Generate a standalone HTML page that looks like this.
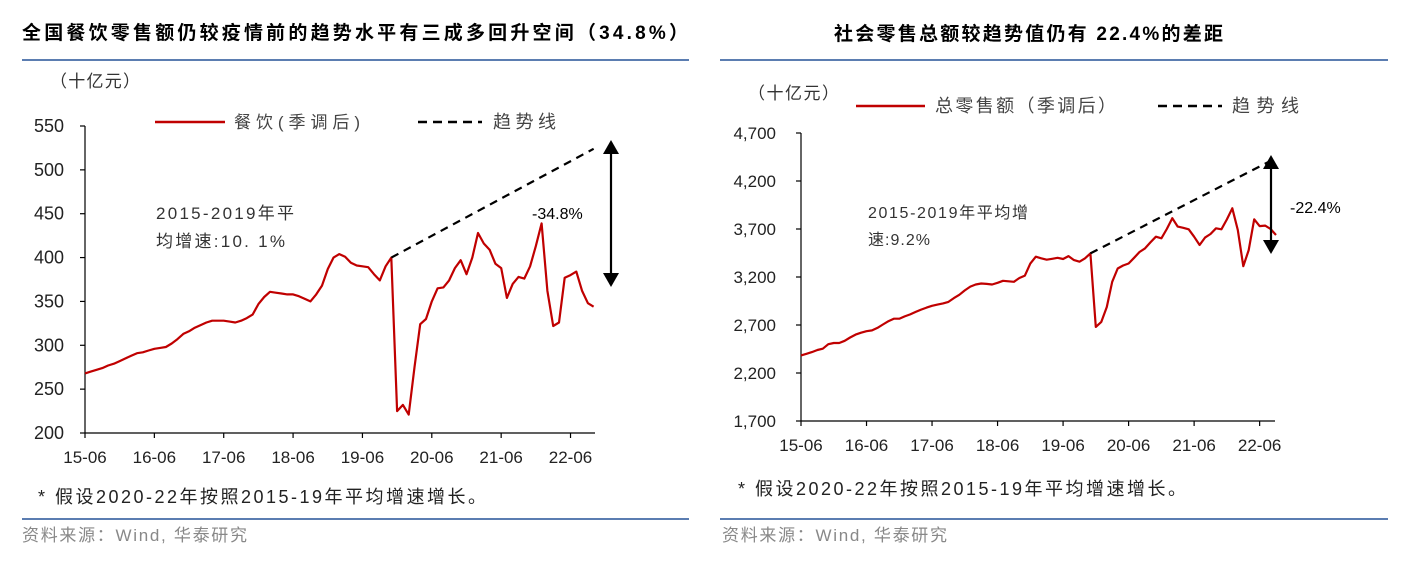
<!DOCTYPE html>
<html><head><meta charset="utf-8">
<style>
html,body{margin:0;padding:0;background:#fff;}
body{width:1406px;height:559px;overflow:hidden;font-family:"Liberation Sans","Noto Sans CJK SC",sans-serif;}
svg text{font-family:"Liberation Sans","Noto Sans CJK SC",sans-serif;}
</style></head>
<body>
<svg id="chart" width="1406" height="559" xmlns="http://www.w3.org/2000/svg">
<g>
<text x="22" y="39" font-size="19" font-weight="bold" fill="#000" textLength="666" lengthAdjust="spacing">全国餐饮零售额仍较疫情前的趋势水平有三成多回升空间（34.8%）</text>
<line x1="22" y1="60" x2="689" y2="60" stroke="#5b7db1" stroke-width="2"/>
<text x="50" y="87" font-size="17" fill="#333" textLength="90" lengthAdjust="spacing">（十亿元）</text>
<line x1="155" y1="122" x2="225" y2="122" stroke="#c00000" stroke-width="2.5"/>
<text x="234" y="128" font-size="17" fill="#444" textLength="126" lengthAdjust="spacing">餐饮(季调后)</text>
<line x1="418" y1="122" x2="482" y2="122" stroke="#000" stroke-width="2.5" stroke-dasharray="9,6"/>
<text x="493" y="128" font-size="18" fill="#444" textLength="63" lengthAdjust="spacing">趋势线</text>
</g>
<g id="left"></g>
<g>
<text x="38" y="503" font-size="18" fill="#222" textLength="448" lengthAdjust="spacing">* 假设2020-22年按照2015-19年平均增速增长。</text>
<line x1="22" y1="519" x2="689" y2="519" stroke="#5b7db1" stroke-width="2"/>
<text x="22" y="541" font-size="17" fill="#888" textLength="225" lengthAdjust="spacing">资料来源：Wind, 华泰研究</text>
</g>

<g>
<text x="834" y="40" font-size="19" font-weight="bold" fill="#000" textLength="389" lengthAdjust="spacing">社会零售总额较趋势值仍有 22.4%的差距</text>
<line x1="720" y1="60" x2="1388" y2="60" stroke="#5b7db1" stroke-width="2"/>
<text x="748" y="99" font-size="17" fill="#333" textLength="91" lengthAdjust="spacing">（十亿元）</text>
<line x1="856" y1="106" x2="925" y2="106" stroke="#c00000" stroke-width="2.5"/>
<text x="935" y="112" font-size="18" fill="#444" textLength="181" lengthAdjust="spacing">总零售额（季调后）</text>
<line x1="1158" y1="106" x2="1222" y2="106" stroke="#000" stroke-width="2.5" stroke-dasharray="9,6"/>
<text x="1232" y="112" font-size="18" fill="#444" textLength="67" lengthAdjust="spacing">趋势线</text>
</g>
<g id="right"></g>
<g>
<text x="738" y="495" font-size="18" fill="#222" textLength="448" lengthAdjust="spacing">* 假设2020-22年按照2015-19年平均增速增长。</text>
<line x1="720" y1="519" x2="1388" y2="519" stroke="#5b7db1" stroke-width="2"/>
<text x="722" y="541" font-size="17" fill="#888" textLength="225" lengthAdjust="spacing">资料来源：Wind, 华泰研究</text>
</g>
</svg>
<script>
const xTickLabels = ["15-06","16-06","17-06","18-06","19-06","20-06","21-06","22-06"];
const leftYTicks = [200,250,300,350,400,450,500,550];
const leftValues = [268,270,272,274,277,279,282,285,288,291,292,294,296,297,298,302,307,313,316,320,323,326,328,328,328,327,326,328,331,335,347,355,361,360,359,358,358,356,353,350,358,368,387,400,404,401,394,391,390,389,381,374,390,400,225,232,221,275,324,330,350,365,366,374,388,397,381,400,428,416,409,393,388,354,370,378,376,390,413,439,362,322,326,377,380,384,362,348,344];
const leftTrend = [[53,400],[88,524]];
const rightYTicks = [1700,2200,2700,3200,3700,4200,4700];
const rightValues = [2383,2400,2418,2440,2453,2500,2512,2512,2535,2570,2600,2620,2635,2644,2670,2705,2740,2766,2766,2790,2810,2836,2860,2881,2900,2912,2925,2941,2980,3015,3060,3100,3122,3132,3128,3122,3140,3160,3155,3150,3190,3215,3340,3411,3395,3380,3390,3400,3387,3418,3376,3359,3394,3446,2680,2732,2888,3150,3289,3320,3341,3400,3460,3498,3560,3620,3603,3700,3812,3725,3712,3697,3620,3533,3610,3648,3707,3697,3800,3916,3690,3313,3480,3801,3730,3735,3700,3637];
const rightTrend = [[53,3446],[87,4439]];

const NS="http://www.w3.org/2000/svg";
function mk(parent,tag,attrs){const e=document.createElementNS(NS,tag);for(const k in attrs)e.setAttribute(k,attrs[k]);parent.appendChild(e);return e;}

function draw(cfg){
  const g=document.getElementById(cfg.id);
  const x=m=>cfg.x0+m*cfg.pxm;
  const y=v=>cfg.yB-(v-cfg.vMin)/(cfg.vMax-cfg.vMin)*(cfg.yB-cfg.yT);
  const ax=mk(g,'line',{x1:cfg.x0,y1:cfg.yT,x2:cfg.x0,y2:cfg.yB,stroke:'#000','stroke-width':1.2});
  
  
  const bx=mk(g,'line',{x1:cfg.x0,y1:cfg.yB,x2:cfg.xEnd,y2:cfg.yB,stroke:'#000','stroke-width':1.2});
  
  
  cfg.yTicks.forEach(v=>{
    const t=mk(g,'line',{x1:cfg.x0-5,y1:y(v),x2:cfg.x0,y2:y(v),stroke:'#000','stroke-width':1.2});
    
    
    const l=mk(g,'text',{x:cfg.ylx,y:y(v)+6,'font-size':cfg.yfs,'text-anchor':'end',fill:'#222'});
    l.textContent=cfg.fmt(v);
    
    
  });
  xTickLabels.forEach((s,i)=>{
    const xx=x(i*12);
    const t=mk(g,'line',{x1:xx,y1:cfg.yB,x2:xx,y2:cfg.yB+5,stroke:'#000','stroke-width':1.2});
    
    
    const l=mk(g,'text',{x:xx,y:cfg.yB+30,'font-size':17,'text-anchor':'middle',fill:'#222'});
    l.textContent=s;
    
    
  });
  const p=mk(g,'polyline',{points:cfg.values.map((v,i)=>x(i).toFixed(1)+','+y(v).toFixed(1)).join(' '),fill:'none',stroke:'#c00000','stroke-width':2.2,'stroke-linejoin':'round'});
  
  
  const tr=mk(g,'line',{x1:x(cfg.trend[0][0]),y1:y(cfg.trend[0][1]),x2:x(cfg.trend[1][0]),y2:y(cfg.trend[1][1]),stroke:'#000','stroke-width':2.2,'stroke-dasharray':'8,6'});
  
  
  const ar=cfg.arrow;
  const a=mk(g,'line',{x1:ar.x,y1:ar.y1+12,x2:ar.x,y2:ar.y2-12,stroke:'#000','stroke-width':2.2});
  
  
  const h1=mk(g,'polygon',{points:`${ar.x-8},${ar.y1+14} ${ar.x+8},${ar.y1+14} ${ar.x},${ar.y1}`,fill:'#000'});
  
  
  const h2=mk(g,'polygon',{points:`${ar.x-8},${ar.y2-14} ${ar.x+8},${ar.y2-14} ${ar.x},${ar.y2}`,fill:'#000'});
  
  
  const gl=mk(g,'text',{x:cfg.gapX,y:cfg.gapY,'font-size':16,fill:'#000'});
  gl.textContent=cfg.gapText;
  
  
  cfg.note.forEach((s,i)=>{
    const n=mk(g,'text',{x:cfg.noteX,y:cfg.noteY+i*cfg.noteDy,'font-size':cfg.noteFs,fill:'#333',textLength:cfg.noteW[i],lengthAdjust:'spacing'});
    n.textContent=s;
    
    
  });
}
draw({id:'left',x0:85,pxm:5.78,xEnd:595,yT:126,yB:433,vMin:200,vMax:550,yTicks:leftYTicks,ylx:64,yfs:18,fmt:v=>String(v),
  values:leftValues,trend:leftTrend,arrow:{x:611,y1:140,y2:287},gapText:'-34.8%',gapX:532,gapY:219,
  note:['2015-2019年平','均增速:10. 1%'],noteW:[138,129],noteX:156,noteY:219,noteDy:28,noteFs:17});
draw({id:'right',x0:801,pxm:5.46,xEnd:1275,yT:133,yB:421,vMin:1700,vMax:4700,yTicks:rightYTicks,ylx:776,yfs:17,fmt:v=>v.toLocaleString('en-US'),
  values:rightValues,trend:rightTrend,arrow:{x:1271,y1:155,y2:254},gapText:'-22.4%',gapX:1290,gapY:213,
  note:['2015-2019年平均增','速:9.2%'],noteW:[160,62],noteX:868,noteY:218,noteDy:27,noteFs:16});
</script>
</body></html>
